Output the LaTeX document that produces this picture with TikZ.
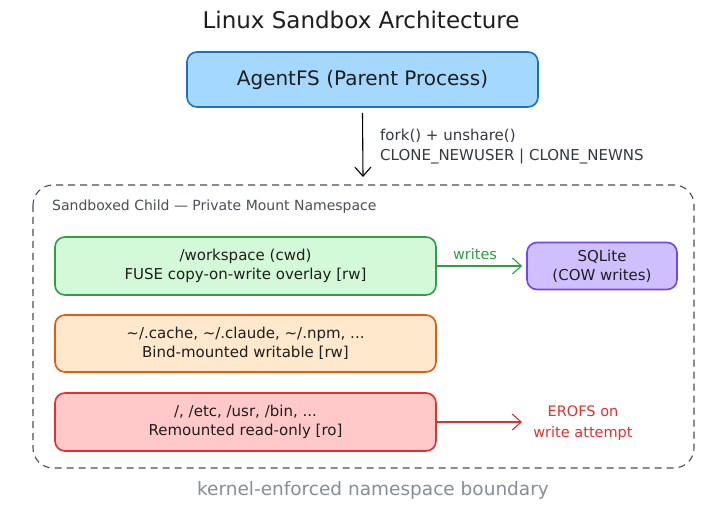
\documentclass[tikz,border=0pt]{standalone}
\usepackage{fontspec}
\setmainfont{DejaVu Sans}
\usetikzlibrary{arrows.meta}
\definecolor{bluefill}{HTML}{A5D8FF}
\definecolor{bluedraw}{HTML}{1971C2}
\definecolor{greenfill}{HTML}{D3F9D8}
\definecolor{greendraw}{HTML}{2F9E44}
\definecolor{purplefill}{HTML}{D0BFFF}
\definecolor{purpledraw}{HTML}{7048E8}
\definecolor{orangefill}{HTML}{FFE8CC}
\definecolor{orangedraw}{HTML}{E8590C}
\definecolor{redfill}{HTML}{FFC9C9}
\definecolor{reddraw}{HTML}{E03131}
\definecolor{darktext}{HTML}{1E1E1E}
\definecolor{labeltext}{HTML}{343A40}
\definecolor{graytext}{HTML}{495057}
\definecolor{lightgray}{HTML}{868E96}
\tikzset{
  box/.style={draw, line width=1.6pt, rounded corners=10pt, align=center, text=darktext,
    font=\fontsize{15}{19}\selectfont, inner sep=0pt},
  arr/.style={line width=1.1pt, -{Straight Barb[length=9pt,width=16pt,line width=1.1pt]}},
}
\begin{document}
\begin{tikzpicture}[x=1pt,y=-1pt]
\useasboundingbox (0,0) rectangle (717,521);
\fill[white] (0,0) rectangle (717,521);

\node[text=darktext, font=\fontsize{23}{26}\selectfont] (title) at (361,20) {Linux Sandbox Architecture};

\node[box, fill=bluefill, draw=bluedraw, minimum width=351pt, minimum height=55pt,
  font=\fontsize{20}{24}\selectfont] (parent) at (362.5,79.5) {AgentFS (Parent Process)};

\coordinate (childtop) at (363,177);
\draw[arr, draw=black] ([yshift=-5pt]parent.south) -- (childtop);
\node[anchor=north west, align=left, text=labeltext, font=\fontsize{15}{20}\selectfont, inner sep=0pt]
  (forklabel) at (380,129) {fork() + unshare()\\CLONE\_NEWUSER | CLONE\_NEWNS};

\draw[graytext, line width=1.1pt, dash pattern=on 7pt off 5pt, rounded corners=20pt]
  (33,185) rectangle (694,468);
\node[anchor=west, text=graytext, font=\fontsize{14}{16}\selectfont, inner sep=0pt]
  (nslabel) at (52,207) {Sandboxed Child — Private Mount Namespace};

\node[box, fill=greenfill, draw=greendraw, minimum width=381pt, minimum height=58pt]
  (green) at (245.5,266) {/workspace (cwd)\\FUSE copy-on-write overlay [rw]};
\node[box, fill=purplefill, draw=purpledraw, minimum width=150pt, minimum height=47pt]
  (sqlite) at (602,266) {SQLite\\(COW writes)};
\draw[arr, draw=greendraw] (green.east) -- ([xshift=-4pt]sqlite.west);
\node[text=greendraw, font=\fontsize{14.5}{16}\selectfont, inner sep=0pt] (writes) at (475,254) {writes};

\node[box, fill=orangefill, draw=orangedraw, minimum width=381pt, minimum height=57pt]
  (orange) at (245.5,343.5) {\textasciitilde/.cache, \textasciitilde/.claude, \textasciitilde/.npm, ...\\Bind-mounted writable [rw]};

\node[box, fill=redfill, draw=reddraw, minimum width=381pt, minimum height=58pt]
  (red) at (245.5,422) {/, /etc, /usr, /bin, ...\\Remounted read-only [ro]};
\node[text=reddraw, align=center, font=\fontsize{14.5}{21}\selectfont, inner sep=0pt]
  (erofs) at (583,423) {EROFS on\\write attempt};
\coordinate (erofsin) at (522,422);
\draw[arr, draw=reddraw] (red.east) -- (erofsin);

\node[text=lightgray, font=\fontsize{18.5}{22}\selectfont] (boundary) at (373,490) {kernel-enforced namespace boundary};
\end{tikzpicture}
\end{document}
